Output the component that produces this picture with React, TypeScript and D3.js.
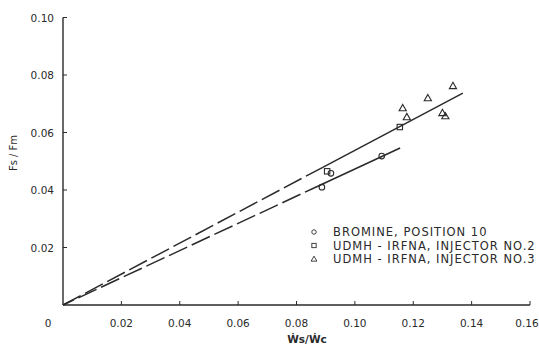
import * as d3 from "d3";

const xTicks = [0.02, 0.04, 0.06, 0.08, 0.1, 0.12, 0.14, 0.16];
const yTicks = [0.02, 0.04, 0.06, 0.08, 0.1];

// bromine, position 10 (circles)
const bromine: [number, number][] = [
  [0.0887, 0.041],
  [0.0918, 0.0458],
  [0.1092, 0.0518],
];
// UDMH-IRFNA, injector no.2 (squares)
const injector2: [number, number][] = [
  [0.0905, 0.0465],
  [0.1154, 0.0619],
];
// UDMH-IRFNA, injector no.3 (triangles)
const injector3: [number, number][] = [
  [0.1164, 0.0685],
  [0.1178, 0.0654],
  [0.125, 0.072],
  [0.1336, 0.0762],
  [0.13, 0.0668],
  [0.131, 0.0657],
];

// fitted lines: dashed part then solid part
const upperDashed: [number, number][] = [[0, 0], [0.089, 0.0479]];
const upperSolid: [number, number][] = [[0.089, 0.0479], [0.137, 0.0737]];
const lowerDashed: [number, number][] = [[0, 0], [0.086, 0.0407]];
const lowerSolid: [number, number][] = [[0.086, 0.0407], [0.1155, 0.0546]];

const legendLabels = [
  "BROMINE, POSITION 10",
  "UDMH - IRFNA, INJECTOR NO.2",
  "UDMH - IRFNA, INJECTOR NO.3",
];

const ink = "#2a2a2a";
const font = "'DejaVu Sans', sans-serif";

function Marker({ kind, x, y }: { kind: string; x: number; y: number }) {
  if (kind === "circle")
    return <circle cx={x} cy={y} r={2.8} fill="none" stroke={ink} strokeWidth={1.1} />;
  if (kind === "square")
    return (
      <rect x={x - 2.7} y={y - 2.7} width={5.4} height={5.4} fill="none" stroke={ink} strokeWidth={1.1} />
    );
  const s = 3.6;
  return (
    <path
      d={`M${x},${y - s}L${x + s},${y + s * 0.75}L${x - s},${y + s * 0.75}Z`}
      fill="none"
      stroke={ink}
      strokeWidth={1.1}
    />
  );
}

export default function App() {
  const width = 539;
  const height = 347;
  const x = d3.scaleLinear().domain([0, 0.16]).range([63, 530]);
  const y = d3.scaleLinear().domain([0, 0.1]).range([305, 17.5]);
  const line = d3
    .line<[number, number]>()
    .x((d) => x(d[0]))
    .y((d) => y(d[1]));

  const series = [
    { kind: "circle", data: bromine },
    { kind: "square", data: injector2 },
    { kind: "triangle", data: injector3 },
  ];

  return (
    <svg
      width={width}
      height={height}
      style={{ position: "absolute", left: 0, top: 0, background: "#fff" }}
      fontFamily={font}
    >
      {/* axes */}
      <line x1={x(0)} y1={y(0)} x2={x(0.16)} y2={y(0)} stroke={ink} strokeWidth={1.4} />
      <line x1={x(0)} y1={y(0)} x2={x(0)} y2={y(0.1)} stroke={ink} strokeWidth={1.4} />
      {xTicks.map((t, i) => (
        <g key={`x${t}`}>
          <line x1={x(t)} y1={y(0)} x2={x(t)} y2={y(0) - 4} stroke={ink} strokeWidth={1} />
          <text
            x={x(t) - (i === xTicks.length - 1 ? 3 : 0)}
            y={y(0) + 22}
            fontSize={10.5}
            textAnchor="middle"
            fill={ink}
          >
            {t.toFixed(2)}
          </text>
        </g>
      ))}
      {yTicks.map((t) => (
        <g key={`y${t}`}>
          <line x1={x(0)} y1={y(t)} x2={x(0) + 4} y2={y(t)} stroke={ink} strokeWidth={1} />
          <text x={x(0) - 9} y={y(t) + 4} fontSize={10.5} textAnchor="end" fill={ink}>
            {t.toFixed(2)}
          </text>
        </g>
      ))}
      <text x={48} y={y(0) + 22} fontSize={10.5} textAnchor="middle" fill={ink}>
        0
      </text>

      {/* axis titles */}
      <text
        x={17}
        y={153}
        fontSize={10}
        textAnchor="middle"
        fill={ink}
        transform="rotate(-90 17 153)"
      >
        Fs / Fm
      </text>
      <text x={307} y={343} fontSize={10.5} textAnchor="middle" fill={ink} fontWeight="bold">
        Ẇs/Ẇc
      </text>

      {/* fit lines */}
      <path d={line(upperDashed) ?? ""} fill="none" stroke={ink} strokeWidth={1.5} strokeDasharray="20 5" />
      <path d={line(upperSolid) ?? ""} fill="none" stroke={ink} strokeWidth={1.5} />
      <path d={line(lowerDashed) ?? ""} fill="none" stroke={ink} strokeWidth={1.5} strokeDasharray="20 5" strokeDashoffset={8} />
      <path d={line(lowerSolid) ?? ""} fill="none" stroke={ink} strokeWidth={1.5} />

      {/* points */}
      {series.map((s) =>
        s.data.map((d, i) => <Marker key={`${s.kind}${i}`} kind={s.kind} x={x(d[0])} y={y(d[1])} />),
      )}

      {/* legend */}
      {legendLabels.map((label, i) => {
        const ly = 232 + i * 13.5;
        return (
          <g key={label}>
            <g transform={`translate(314,${ly}) scale(0.8) translate(-314,${-ly})`}>
              <Marker kind={series[i].kind} x={314} y={ly} />
            </g>
            <text x={333} y={ly + 4} fontSize={11.5} fill={ink} letterSpacing={1}>
              {label}
            </text>
          </g>
        );
      })}
    </svg>
  );
}
